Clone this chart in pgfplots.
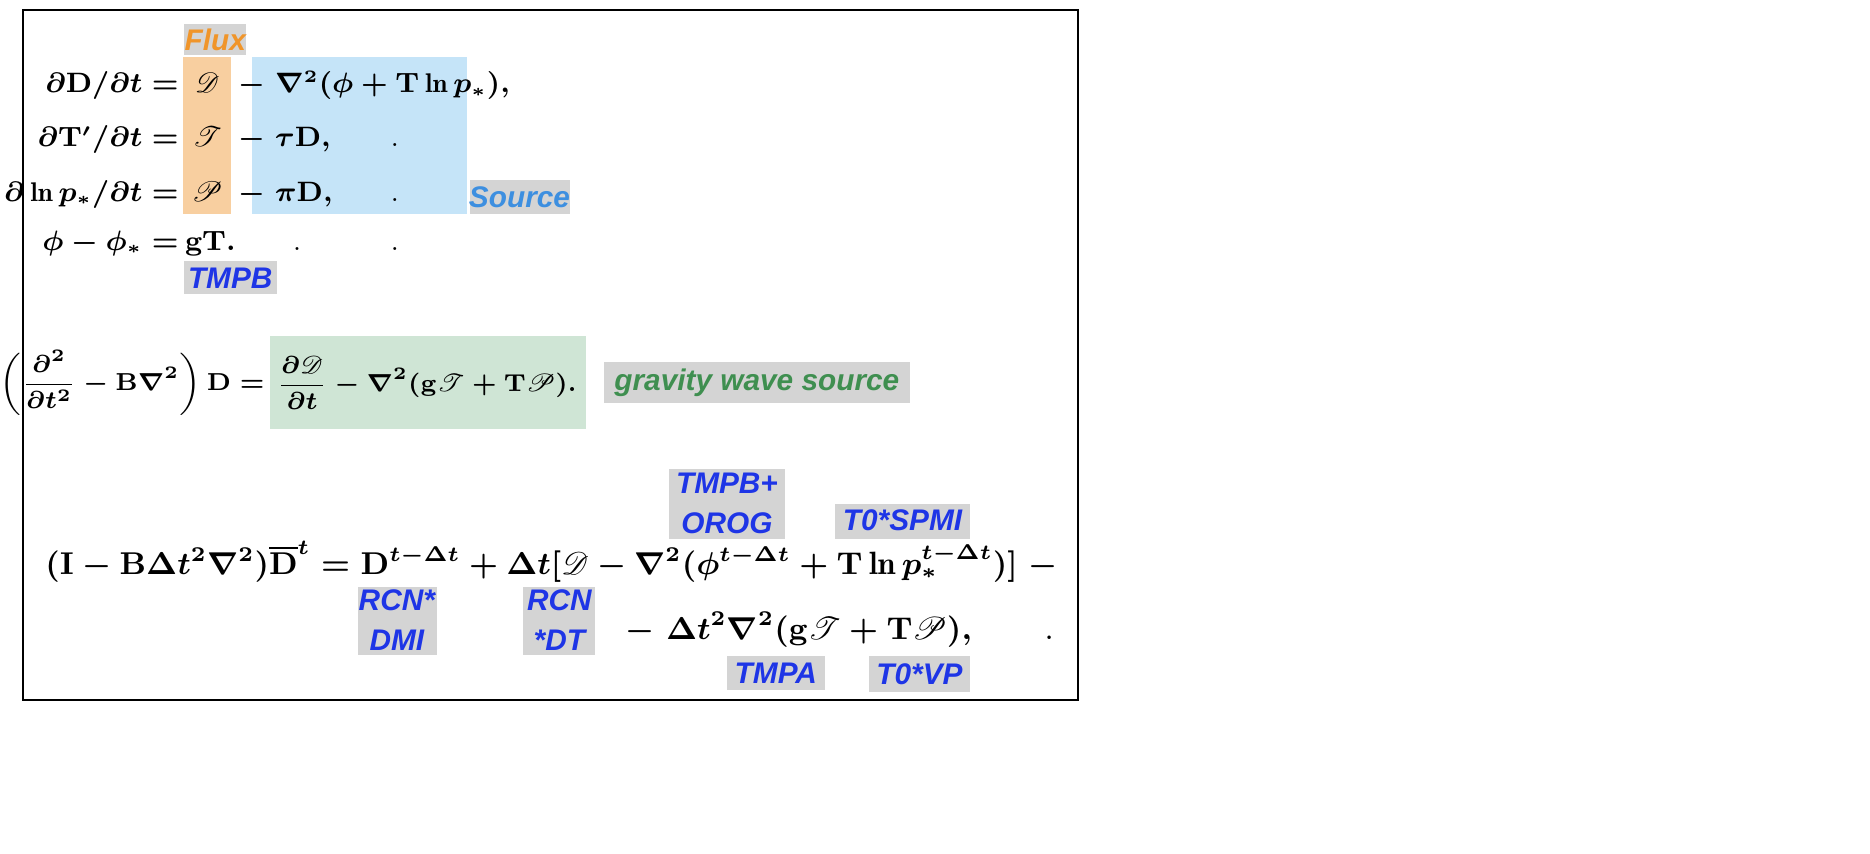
\documentclass[border=0pt]{standalone}
\usepackage{pgfplots}
\pgfplotsset{compat=1.18}
\usepackage{amsmath,amssymb,mathrsfs}
\usepackage{fontspec}
\newfontfamily\lab{Liberation Sans}
\definecolor{flux}{HTML}{F8CFA0}
\definecolor{src}{HTML}{C5E4F8}
\definecolor{grv}{HTML}{CFE5D5}
\definecolor{gbox}{HTML}{D4D4D4}
\definecolor{lblue}{HTML}{1E35E6}
\definecolor{sblue}{HTML}{3D8FE0}
\definecolor{orng}{HTML}{F0952A}
\definecolor{ggreen}{HTML}{3F8F50}
\begin{document}
\begin{tikzpicture}
\begin{axis}[width=18.7cm,height=8.56cm,scale only axis,xmin=0,xmax=1870,ymin=0,ymax=856,
 y dir=reverse,axis lines=none,clip=false]
\addplot[draw=none] coordinates {(0,0)(1870,856)};
\draw[black,line width=0.5pt] (18,10) rectangle (1076,702);
% boxes
\fill[gbox] (180,24) rectangle (242,55);
\fill[flux] (179,57) rectangle (227,215);
\fill[src] (248,57) rectangle (463,215);
\fill[gbox] (466,180) rectangle (567,215);
\fill[gbox] (180,262) rectangle (273,295);
\fill[grv] (266,337) rectangle (583,430);
\fill[gbox] (601,363) rectangle (908,404);
\fill[gbox] (666,470) rectangle (782,540);
\fill[gbox] (832,505) rectangle (968,540);
\fill[gbox] (354,588) rectangle (433,657);
\fill[gbox] (520,588) rectangle (592,657);
\fill[gbox] (724,658) rectangle (822,692);
\fill[gbox] (866,658) rectangle (968,694);
% labels
\tikzset{L/.style={font=\lab\fontsize{8.5}{10}\selectfont\bfseries\itshape,align=center,inner sep=0pt}}
\node[L,text=orng] at (211,40) {Flux};
\node[L,text=sblue] at (516,198) {Source};
\node[L,text=lblue] at (226,279) {TMPB};
\node[L,text=ggreen] at (754,384) {gravity wave source};
\node[L,text=lblue,font=\lab\fontsize{8.5}{11.5}\selectfont\bfseries\itshape] at (724,505) {TMPB+\\OROG};
\node[L,text=lblue] at (900,522) {T0*SPMI};
\node[L,text=lblue,font=\lab\fontsize{8.5}{11.5}\selectfont\bfseries\itshape] at (393,622) {RCN*\\DMI};
\node[L,text=lblue,font=\lab\fontsize{8.5}{11.5}\selectfont\bfseries\itshape] at (556,622) {RCN\\*DT};
\node[L,text=lblue] at (773,675) {TMPA};
\node[L,text=lblue] at (917,676) {T0*VP};
% equations
\tikzset{E/.style={font=\fontsize{7.7}{9}\selectfont\boldmath,inner sep=0pt}}
\node[E,anchor=base east] at (175,93) {$\partial\mathbf{D}/\partial t =$};
\node[E,anchor=base] at (203,93) {$\mathscr{D}$};
\node[E,anchor=base west] at (234,93) {$-\ \nabla^2(\phi + \mathbf{T}\ln p_*),$};
\node[E,anchor=base east] at (175,147) {$\partial\mathbf{T}'/\partial t =$};
\node[E,anchor=base] at (203,147) {$\mathscr{T}$};
\node[E,anchor=base west] at (234,147) {$-\ \tau\mathbf{D},$};
\node[E,anchor=base] at (391,147) {.};
\node[E,anchor=base east] at (175,202) {$\partial\ln p_*/\partial t =$};
\node[E,anchor=base] at (203,202) {$\mathscr{P}$};
\node[E,anchor=base west] at (234,202) {$-\ \pi\mathbf{D},$};
\node[E,anchor=base] at (391,202) {.};
\node[E,anchor=base east] at (175,251) {$\phi - \phi_* =$};
\node[E,anchor=base west] at (180,251) {$\mathbf{gT}.$};
\node[E,anchor=base] at (293,251) {.};
\node[E,anchor=base] at (391,251) {.};
\tikzset{G/.style={font=\fontsize{7.4}{9}\selectfont\boldmath,inner sep=0pt}}
\node[G,anchor=east] at (261,384) {$\displaystyle\left(\frac{\partial^2}{\partial t^2} - \mathbf{B}\nabla^2\right)\mathbf{D} =$};
\node[G,anchor=west] at (272,384) {$\displaystyle\frac{\partial\mathscr{D}}{\partial t} - \nabla^2(\mathbf{g}\mathscr{T} + \mathbf{T}\mathscr{P}).$};
\tikzset{F/.style={font=\fontsize{9.2}{11}\selectfont\boldmath,inner sep=0pt}}
\node[F,anchor=base west] at (40,576) {$(\mathbf{I} - \mathbf{B}\Delta t^2\nabla^2)\overline{\mathbf{D}}^t = \mathbf{D}^{t-\Delta t} + \Delta t[\mathscr{D} - \nabla^2(\phi^{t-\Delta t} + \mathbf{T}\ln p_*^{t-\Delta t})]\ -$};
\node[F,anchor=base west] at (622,641) {$-\ \Delta t^2\nabla^2(\mathbf{g}\mathscr{T} + \mathbf{T}\mathscr{P}),$};
\node[F,anchor=base] at (1047,641) {.};
\end{axis}
\end{tikzpicture}
\end{document}
